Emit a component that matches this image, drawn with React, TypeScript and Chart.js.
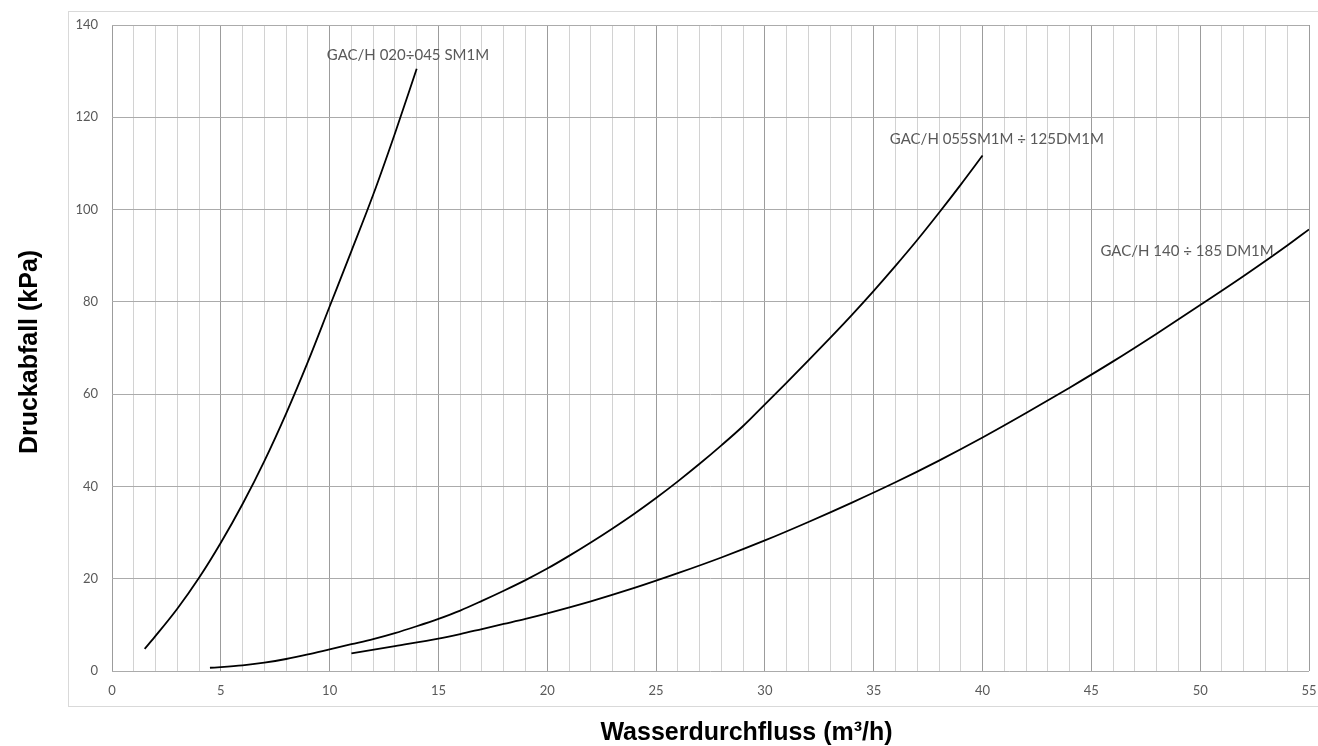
import React, { useEffect, useRef } from 'react';
import { Chart, registerables } from 'chart.js';

Chart.register(...registerables);

// Flow rate (m³/h) and pressure drop (kPa) for each unit range
const flowSmall = [1.5, 2, 3, 4, 5, 6, 7, 8, 9, 10, 11, 12, 13, 14];
const dropSmall = [4.8, 7.6, 13.5, 20.2, 27.8, 36.2, 45.5, 55.8, 67.0, 79.0, 91.0, 103.2, 116.5, 130.5];

const flowMedium = [4.5, 6, 7, 8, 9, 10, 11, 12, 13, 14, 15, 16, 17, 18, 19, 20, 21, 22, 23, 24, 25, 26, 27, 28, 29, 30, 31, 32, 33, 34, 35, 36, 37, 38, 39, 40];
const dropMedium = [0.7, 1.2, 1.8, 2.6, 3.6, 4.7, 5.8, 6.9, 8.2, 9.7, 11.3, 13.1, 15.2, 17.4, 19.7, 22.2, 24.95, 27.85, 30.9, 34.1, 37.5, 41.1, 44.9, 48.9, 53.1, 57.8, 62.5, 67.3, 72.2, 77.2, 82.4, 87.8, 93.4, 99.3, 105.4, 111.7];

const flowLarge = [11, 13, 15, 16, 17, 18, 19, 20, 22, 24, 26, 28, 30, 32, 34, 36, 38, 40, 42, 44, 46, 48, 50, 52, 54, 55];
const dropLarge = [3.8, 5.4, 7.0, 8.0, 9.1, 10.2, 11.3, 12.5, 15.1, 18.0, 21.2, 24.6, 28.3, 32.3, 36.5, 40.9, 45.6, 50.6, 55.9, 61.4, 67.1, 73.1, 79.3, 85.6, 92.2, 95.7];

const seriesNames = ['GAC/H 020÷045 SM1M', 'GAC/H 055SM1M ÷ 125DM1M', 'GAC/H 140 ÷ 185 DM1M'];
// Anchor of each curve caption (left edge, vertical middle) in data units
const captionFlow = [9.87, 35.74, 45.42];
const captionDrop = [133.5, 115.3, 91.0];

const xMin = 0;
const xMax = 55;
const xMajorStep = 5;
const yMin = 0;
const yMax = 140;
const yStep = 20;

const xTitle = 'Wasserdurchfluss (m³/h)';
const yTitle = 'Druckabfall (kPa)';

const titleFont = "bold 25px 'Liberation Sans', Arial, sans-serif";

const toPoints = (xs: number[], ys: number[]) => xs.map((x, i) => ({ x, y: ys[i] }));

const captionPlugin = {
  id: 'curveCaptions',
  afterDatasetsDraw(chart: any) {
    const { ctx, scales, chartArea, height } = chart;
    ctx.save();
    ctx.font = '15px Lato';
    ctx.fillStyle = '#595959';
    ctx.textAlign = 'left';
    ctx.textBaseline = 'middle';
    seriesNames.forEach((name, i) => {
      ctx.fillText(name, scales.x.getPixelForValue(captionFlow[i]), scales.y.getPixelForValue(captionDrop[i]));
    });

    // axis titles
    ctx.font = titleFont;
    ctx.fillStyle = '#000000';
    ctx.textAlign = 'center';
    ctx.fillText(xTitle, (chartArea.left + chartArea.right) / 2 + 36, height - 13);
    ctx.translate(30, (chartArea.top + chartArea.bottom) / 2 + 4);
    ctx.rotate(-Math.PI / 2);
    ctx.fillText(yTitle, 0, 0);
    ctx.restore();
  },
};

const framePlugin = {
  id: 'outerFrame',
  beforeDraw(chart: any) {
    const { ctx, chartArea, width, height } = chart;
    ctx.save();
    ctx.fillStyle = '#ffffff';
    ctx.fillRect(0, 0, width, height);
    ctx.strokeStyle = '#d9d9d9';
    ctx.lineWidth = 1;
    const left = Math.round(chartArea.left - 44) + 0.5;
    const top = Math.round(chartArea.top - 14) + 0.5;
    const bottom = Math.round(chartArea.bottom + 35) + 0.5;
    ctx.strokeRect(left, top, width + 2 - left, bottom - top);
    ctx.restore();
  },
};

export default function App() {
  const canvasRef = useRef<HTMLCanvasElement | null>(null);

  useEffect(() => {
    if (!canvasRef.current) return;
    const line = { showLine: true, pointRadius: 0, borderColor: '#000000', borderWidth: 1.8, cubicInterpolationMode: 'monotone' as const, fill: false };
    const chart = new Chart(canvasRef.current, {
      type: 'scatter',
      data: {
        datasets: [
          { label: seriesNames[0], data: toPoints(flowSmall, dropSmall), ...line },
          { label: seriesNames[1], data: toPoints(flowMedium, dropMedium), ...line },
          { label: seriesNames[2], data: toPoints(flowLarge, dropLarge), ...line },
        ],
      },
      options: {
        animation: false,
        responsive: false,
        devicePixelRatio: 1,
        layout: { padding: { left: 0, top: 25, right: 9, bottom: 0 } },
        plugins: { legend: { display: false }, tooltip: { enabled: false } },
        scales: {
          x: {
            type: 'linear',
            min: xMin,
            max: xMax,
            border: { display: false },
            grid: {
              drawTicks: false,
              color: (c: any) => (c.tick && c.tick.value % xMajorStep === 0 ? '#9c9c9c' : '#d2d2d2'),
              lineWidth: 1,
            },
            ticks: {
              stepSize: 1,
              autoSkip: false,
              maxRotation: 0,
              padding: 12,
              color: '#595959',
              font: { family: 'Lato', size: 13 },
              callback: (v: any) => (Number(v) % xMajorStep === 0 ? String(v) : ''),
            },
            afterFit: (s: any) => { s.height = 75; s.paddingLeft = 0; s.paddingRight = 0; },
          },
          y: {
            type: 'linear',
            min: yMin,
            max: yMax,
            border: { display: false },
            grid: { drawTicks: false, color: '#ababab', lineWidth: 1 },
            ticks: {
              stepSize: yStep,
              padding: 14,
              color: '#595959',
              font: { family: 'Lato', size: 13 },
            },
            afterFit: (s: any) => { s.width = 112; s.paddingTop = 0; s.paddingBottom = 0; },
          },
        },
      },
      plugins: [framePlugin, captionPlugin],
    });
    return () => chart.destroy();
  }, []);

  return (
    <div style={{ position: 'absolute', left: 0, top: 0, width: 1318, height: 746, background: '#ffffff' }}>
      <canvas ref={canvasRef} width={1318} height={746} style={{ display: 'block' }} />
    </div>
  );
}
